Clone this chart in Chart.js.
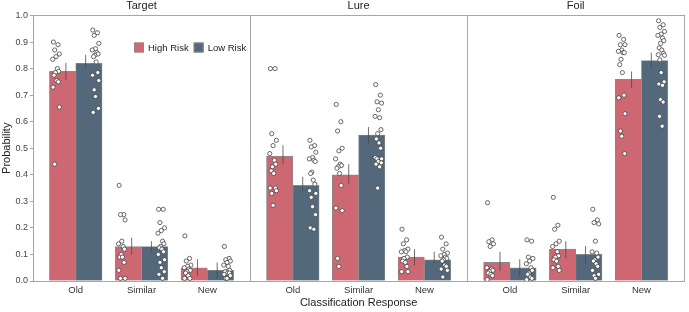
<!DOCTYPE html>
<html lang="en">
<head>
<meta charset="UTF-8">
<title>Classification Response by Risk Group</title>
<script src="https://cdn.jsdelivr.net/npm/chart.js"></script>
<style>
    body { margin: 0; background: #ffffff; }
    canvas { display: block; }
</style>
</head>
<body>
<canvas id="chart" width="689" height="312"></canvas>
<script>
// panels (item type) and the response categories inside each one
const panels = ['Target', 'Lure', 'Foil'];
const responses = ['Old', 'Similar', 'New'];
const groups = ['High Risk', 'Low Risk'];

// bar heights, in order Target Old/Similar/New, Lure ..., Foil ...
const highMeans = [0.79, 0.13, 0.05, 0.47, 0.40, 0.09, 0.07, 0.12, 0.76];
const lowMeans  = [0.82, 0.13, 0.04, 0.36, 0.55, 0.08, 0.05, 0.10, 0.83];

// error bar ends
const highLower = [0.757, 0.100, 0.020, 0.439, 0.367, 0.058, 0.038, 0.085, 0.727];
const highUpper = [0.822, 0.163, 0.082, 0.511, 0.440, 0.120, 0.110, 0.150, 0.789];
const lowLower  = [0.798, 0.110, 0.010, 0.338, 0.515, 0.066, 0.016, 0.066, 0.800];
const lowUpper  = [0.852, 0.150, 0.070, 0.392, 0.580, 0.110, 0.082, 0.132, 0.860];

// participant values
const highPoints = [
    [0.90, 0.89, 0.87, 0.855, 0.845, 0.835, 0.80, 0.79, 0.785, 0.775, 0.755, 0.75, 0.73, 0.655, 0.44],
    [0.36, 0.25, 0.25, 0.23, 0.15, 0.14, 0.13, 0.12, 0.10, 0.09, 0.09, 0.07, 0.04, 0.01, 0.01],
    [0.17, 0.085, 0.075, 0.06, 0.055, 0.05, 0.045, 0.04, 0.035, 0.03, 0.02, 0.01, 0.01],
    [0.80, 0.80, 0.555, 0.53, 0.51, 0.48, 0.455, 0.44, 0.43, 0.415, 0.405, 0.35, 0.35, 0.34, 0.33, 0.285],
    [0.665, 0.60, 0.565, 0.50, 0.49, 0.46, 0.44, 0.435, 0.43, 0.425, 0.405, 0.36, 0.275, 0.265, 0.085, 0.055],
    [0.195, 0.155, 0.14, 0.12, 0.115, 0.11, 0.11, 0.09, 0.085, 0.075, 0.07, 0.055, 0.035, 0.035],
    [0.295, 0.155, 0.148, 0.14, 0.13, 0.05, 0.045, 0.04, 0.035, 0.03, 0.025, 0.02, 0.005],
    [0.315, 0.21, 0.195, 0.15, 0.14, 0.13, 0.11, 0.095, 0.09, 0.08, 0.075, 0.055, 0.05, 0.04],
    [0.925, 0.91, 0.89, 0.89, 0.87, 0.865, 0.86, 0.86, 0.835, 0.815, 0.785, 0.70, 0.69, 0.63, 0.565, 0.545, 0.48]
];
const lowPoints = [
    [0.945, 0.935, 0.925, 0.895, 0.875, 0.87, 0.86, 0.855, 0.85, 0.845, 0.825, 0.785, 0.775, 0.755, 0.72, 0.695, 0.65, 0.635],
    [0.27, 0.27, 0.22, 0.20, 0.19, 0.18, 0.15, 0.14, 0.13, 0.125, 0.12, 0.11, 0.10, 0.08, 0.07, 0.05, 0.035, 0.025, 0.01],
    [0.13, 0.085, 0.08, 0.075, 0.07, 0.06, 0.055, 0.04, 0.035, 0.035, 0.03, 0.03, 0.025, 0.02, 0.01, 0.01],
    [0.53, 0.51, 0.505, 0.485, 0.465, 0.46, 0.455, 0.45, 0.41, 0.405, 0.38, 0.365, 0.34, 0.33, 0.315, 0.28, 0.25, 0.20, 0.195],
    [0.74, 0.70, 0.675, 0.67, 0.645, 0.62, 0.615, 0.57, 0.555, 0.535, 0.52, 0.50, 0.465, 0.46, 0.46, 0.45, 0.445, 0.44, 0.43, 0.35],
    [0.165, 0.14, 0.12, 0.105, 0.10, 0.095, 0.09, 0.085, 0.08, 0.075, 0.06, 0.055, 0.045, 0.04, 0.015],
    [0.155, 0.15, 0.09, 0.085, 0.075, 0.065, 0.05, 0.04, 0.03, 0.025, 0.015, 0.01, 0.005],
    [0.27, 0.23, 0.22, 0.215, 0.15, 0.11, 0.105, 0.09, 0.08, 0.075, 0.065, 0.055, 0.04, 0.025, 0.02, 0.01],
    [0.98, 0.965, 0.955, 0.94, 0.93, 0.925, 0.915, 0.905, 0.895, 0.878, 0.87, 0.857, 0.852, 0.85, 0.833, 0.785, 0.75, 0.742, 0.737, 0.683, 0.674, 0.62, 0.583]
];

// layout in x units: each panel is 3.3 wide, categories 1 apart
const PANEL = 3.3, PAD = 0.65;
const jitter = [-0.04, 0.03, -0.02, 0.05, 0.0, -0.05, 0.02, 0.04, -0.01, -0.03, 0.01, 0.035, -0.045, 0.05, -0.02, 0.0, 0.045, -0.035, 0.02, -0.01, 0.03, -0.025, 0.015];
const FONT = "'Liberation Sans', Arial, sans-serif";
const RED = '#cd6872', BLUE = '#53697b', AXIS = '#a6a6a6';

function centerOf(k) {
    return Math.floor(k / 3) * PANEL + PAD + (k % 3);
}

function barData(means, shift) {
    return means.map((m, k) => ({ x: centerOf(k) + shift, y: m }));
}

function errData(lo, hi, shift) {
    let out = [];
    lo.forEach((l, k) => {
        let x = centerOf(k) + shift;
        out.push({ x: x, y: l }, { x: x, y: hi[k] }, { x: x, y: null });
    });
    return out;
}

function pointData(sets, shift) {
    let out = [];
    sets.forEach((vals, k) => {
        vals.forEach((v, i) => out.push({ x: centerOf(k) + shift + jitter[i % jitter.length], y: v }));
    });
    return out;
}

const categoryTicks = [];
for (let k = 0; k < 9; k++) categoryTicks.push(centerOf(k));
const panelTicks = [];
for (let p = 0; p <= 6; p++) panelTicks.push(p * PANEL / 2);

// small legend drawn inside the Target panel
const innerLegend = {
    id: 'innerLegend',
    afterDraw(chart) {
        const ctx = chart.ctx, area = chart.chartArea;
        let x = area.left + 101, y = area.top + 27;
        ctx.save();
        ctx.font = '9.5px ' + FONT;
        ctx.textBaseline = 'middle';
        chart.data.datasets.filter(d => d.type === 'bar').forEach(d => {
            ctx.fillStyle = d.backgroundColor;
            ctx.fillRect(x, y, 10, 10);
            ctx.strokeStyle = '#8c8c8c';
            ctx.lineWidth = 0.8;
            ctx.strokeRect(x + 0.5, y + 0.5, 9, 9);
            ctx.fillStyle = '#222';
            ctx.fillText(d.label, x + 14, y + 5.5);
            x += 14 + ctx.measureText(d.label).width + 5;
        });
        ctx.restore();
    }
};

new Chart(document.getElementById('chart'), {
    type: 'bar',
    data: {
        datasets: [
            { type: 'scatter', label: 'High pts', data: pointData(highPoints, -0.3), order: 0,
              pointRadius: 2.1, backgroundColor: '#ffffff', borderColor: '#444', borderWidth: 0.8 },
            { type: 'scatter', label: 'Low pts', data: pointData(lowPoints, 0.3), order: 0,
              pointRadius: 2.1, backgroundColor: '#ffffff', borderColor: '#444', borderWidth: 0.8 },
            { type: 'line', label: 'High err', data: errData(highLower, highUpper, -0.15), order: 1,
              borderColor: '#4a4a4a', borderWidth: 0.8, pointRadius: 0, spanGaps: false },
            { type: 'line', label: 'Low err', data: errData(lowLower, lowUpper, 0.15), order: 1,
              borderColor: '#4a4a4a', borderWidth: 0.8, pointRadius: 0, spanGaps: false },
            { type: 'bar', label: groups[0], data: barData(highMeans, -0.2), order: 2,
              backgroundColor: RED, borderColor: '#8a8a8a', borderWidth: 0.8,
              grouped: false, categoryPercentage: 1, barPercentage: 1 },
            { type: 'bar', label: groups[1], data: barData(lowMeans, 0.2), order: 2,
              backgroundColor: BLUE, borderColor: '#8a8a8a', borderWidth: 0.8,
              grouped: false, categoryPercentage: 1, barPercentage: 1 }
        ]
    },
    options: {
        responsive: false,
        animation: false,
        layout: { padding: { right: 1 } },
        plugins: { legend: { display: false }, tooltip: { enabled: false } },
        scales: {
            x: {
                type: 'linear', position: 'bottom', min: 0, max: 3 * PANEL, offset: false,
                afterBuildTicks: s => { s.ticks = categoryTicks.map(v => ({ value: v })); },
                afterFit: s => { s.height = 31; },
                ticks: { callback: (v, i) => responses[i % 3], autoSkip: false, maxRotation: 0,
                         font: { family: FONT, size: 9.5 }, color: '#333', padding: 4 },
                grid: { display: false, drawTicks: false, offset: false },
                border: { color: AXIS },
                title: { display: true, text: 'Classification Response',
                         font: { family: FONT, size: 11 }, color: '#222', padding: { top: 0, bottom: 2 } }
            },
            x2: {
                type: 'linear', position: 'top', min: 0, max: 3 * PANEL, offset: false,
                afterBuildTicks: s => { s.ticks = panelTicks.map(v => ({ value: v })); },
                afterFit: s => { s.height = 15.5; },
                ticks: { callback: (v, i) => i % 2 ? panels[(i - 1) / 2] : '', autoSkip: false, maxRotation: 0,
                         font: { family: FONT, size: 11 }, color: '#222', padding: 3 },
                grid: { drawTicks: false, offset: false, color: c => c.index % 2 ? 'rgba(0,0,0,0)' : AXIS },
                border: { color: AXIS }
            },
            y: {
                min: 0, max: 1,
                afterFit: s => { s.width = 33; },
                ticks: { stepSize: 0.1, callback: v => v.toFixed(1),
                         font: { family: FONT, size: 9 }, color: '#444', padding: 2 },
                grid: { drawOnChartArea: false, tickLength: 3, color: AXIS },
                border: { color: AXIS },
                title: { display: true, text: 'Probability',
                         font: { family: FONT, size: 11 }, color: '#222', padding: 0 }
            }
        }
    },
    plugins: [innerLegend]
});
</script>
</body>
</html>
